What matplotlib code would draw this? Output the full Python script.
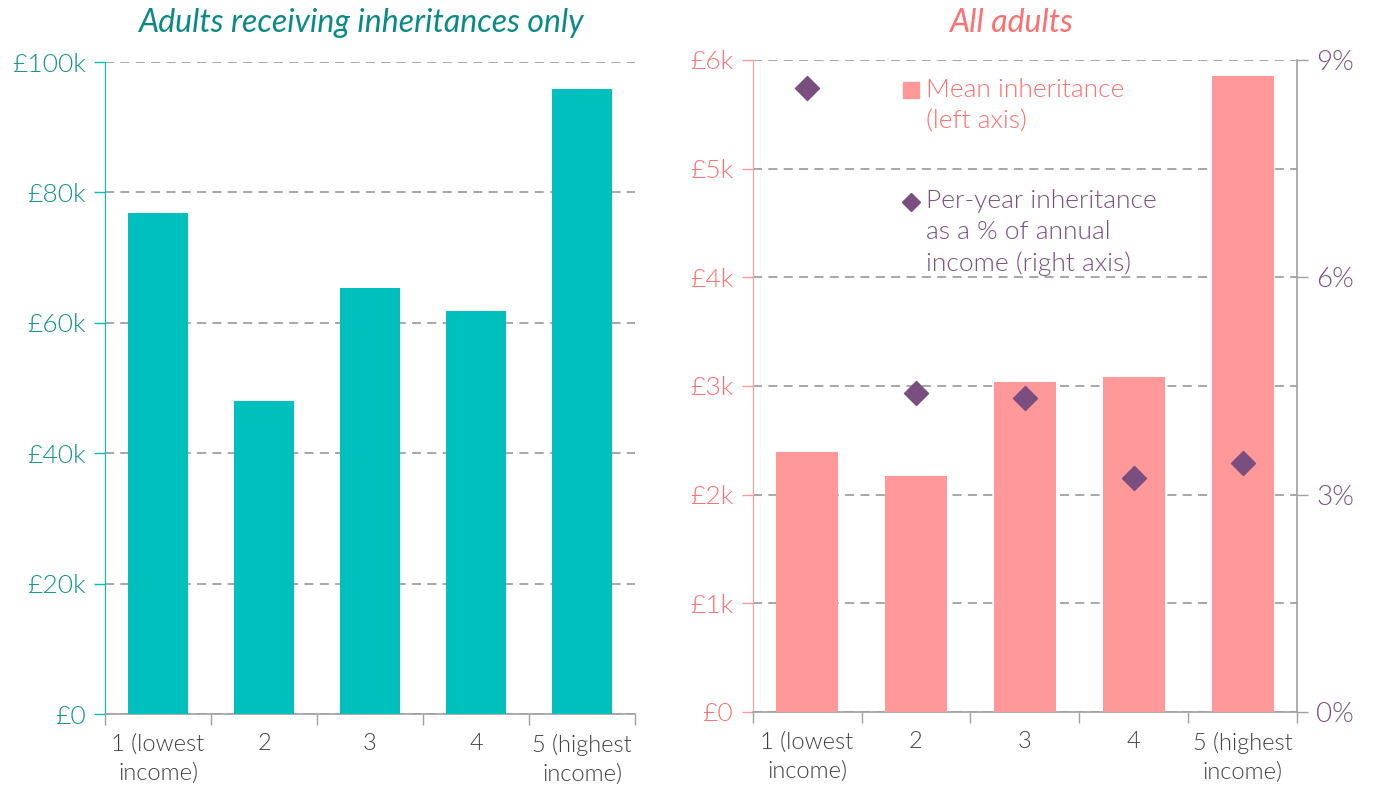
import matplotlib
matplotlib.use("Agg")
import matplotlib.pyplot as plt
import numpy as np

plt.rcParams['font.family'] = ['Lato', 'DejaVu Sans']
plt.rcParams['font.weight'] = 300

categories = ["1 (lowest\nincome)", "2", "3", "4", "5 (highest\nincome)"]
receivers_mean = [76.8, 48.0, 65.3, 61.8, 95.9]          # £k, adults receiving inheritances
all_mean = [2.39, 2.17, 3.04, 3.08, 5.85]                 # £k, all adults
pct_income = [8.62, 4.41, 4.34, 3.23, 3.44]               # %, right axis
left_ticks = [0, 20, 40, 60, 80, 100]
left_ticklabels = ["£0", "£20k", "£40k", "£60k", "£80k", "£100k"]
right_ticks = [0, 1, 2, 3, 4, 5, 6]
right_ticklabels = ["£0", "£1k", "£2k", "£3k", "£4k", "£5k", "£6k"]
pct_ticks = [0, 3, 6, 9]
pct_ticklabels = ["0%", "3%", "6%", "9%"]

TEAL = "#00C0BD"
TEAL_TXT = "#12938C"
TEAL_TITLE = "#0A8A84"
PINK = "#FF9999"
PINK_TXT = "#FF6F6F"
PURPLE = "#7A4F80"
GRAY = "#A0A0A0"
GRID = "#A0A0A0"
LBL = "#404040"

fig = plt.figure(figsize=(13.76, 7.85), dpi=100)
x = np.arange(len(categories))

def style_common(ax):
    ax.set_xlim(-0.5, 4.5)
    ax.spines['top'].set_visible(False)
    ax.spines['bottom'].set_color(GRAY)
    ax.spines['bottom'].set_linewidth(1.2)
    ax.set_xticks(np.arange(-0.5, 5.0, 1.0))
    ax.set_xticklabels([])
    ax.set_xticks(x, minor=True)
    ax.set_xticklabels(categories, minor=True, fontsize=17, color=LBL, linespacing=1.45)
    ax.tick_params(axis='x', which='major', length=8, color=GRAY, width=1)
    ax.tick_params(axis='x', which='minor', length=0, pad=14)
    ax.set_axisbelow(True)

# Left chart
ax1 = fig.add_axes([0.0763, 0.0904, 0.3852, 0.8306])
ax1.bar(x, receivers_mean, width=0.57, color=TEAL, zorder=3)
ax1.set_ylim(0, 100)
ax1.set_yticks(left_ticks)
ax1.set_yticklabels(left_ticklabels, fontsize=19, color=TEAL_TXT)
ax1.tick_params(axis='y', length=8, color=TEAL, width=1, pad=6)
ax1.spines['left'].set_color(TEAL)
ax1.spines['right'].set_visible(False)
ax1.yaxis.grid(True, linestyle=(0, (5, 3.5)), color=GRID, linewidth=1.3)
style_common(ax1)
fig.text(0.2624, 0.971, "Adults receiving inheritances only", fontsize=23, style='italic',
         color=TEAL_TITLE, ha='center', va='center', weight='normal')

# Right chart
ax2 = fig.add_axes([0.547, 0.093, 0.3956, 0.8306])
ax2.bar(x, all_mean, width=0.57, color=PINK, zorder=3)
ax2.set_ylim(0, 6)
ax2.set_yticks(right_ticks)
ax2.set_yticklabels(right_ticklabels, fontsize=19, color=PINK_TXT)
ax2.tick_params(axis='y', length=8, color=PINK, width=1, pad=6)
ax2.spines['left'].set_color(PINK)
ax2.spines['right'].set_visible(False)
ax2.yaxis.grid(True, linestyle=(0, (5, 3.5)), color=GRID, linewidth=1.3)
style_common(ax2)
fig.text(0.735, 0.971, "All adults", fontsize=23, style='italic', color=PINK_TXT,
         ha='center', va='center', weight='normal')

ax3 = ax2.twinx()
ax3.set_ylim(0, 9)
ax3.set_yticks(pct_ticks)
ax3.set_yticklabels(pct_ticklabels, fontsize=20, color=PURPLE)
ax3.tick_params(axis='y', length=8, color=GRAY, width=1, pad=6)
for s in ['top', 'left', 'bottom']:
    ax3.spines[s].set_visible(False)
ax3.spines['right'].set_color(GRAY)
ax3.spines['right'].set_linewidth(1.2)
ax3.scatter(x, pct_income, marker='D', s=150, color=PURPLE, zorder=5)

# Legend (manual)
ax2.plot([0.29], [0.954], transform=ax2.transAxes, marker='s', markersize=12,
         color=PINK, linestyle='none', clip_on=False)
ax2.text(0.318, 0.973, "Mean inheritance\n(left axis)", transform=ax2.transAxes,
         fontsize=19, color=PINK_TXT, va='top', ha='left', linespacing=1.42)
ax2.plot([0.29], [0.782], transform=ax2.transAxes, marker='D', markersize=9,
         color=PURPLE, linestyle='none', clip_on=False)
ax2.text(0.318, 0.802, "Per-year inheritance\nas a % of annual\nincome (right axis)",
         transform=ax2.transAxes, fontsize=19, color=PURPLE, va='top', ha='left',
         linespacing=1.38)

fig.savefig("out.png", dpi=100)
